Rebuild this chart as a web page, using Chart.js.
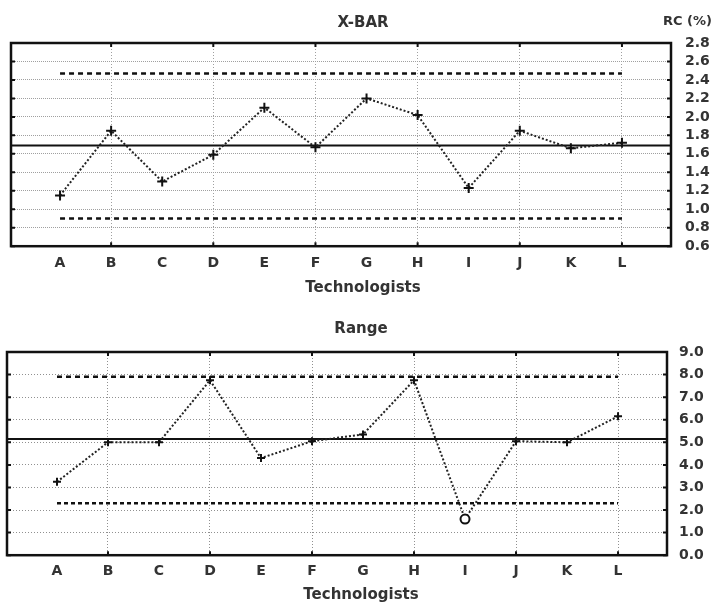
<!DOCTYPE html>
<html>
<head>
<meta charset="utf-8">
<script src="https://cdn.jsdelivr.net/npm/chart.js@4.4.1/dist/chart.umd.min.js"></script>
<style>
  body { margin: 0; background: #fff; }
  #wrap { position: relative; width: 715px; height: 603px; }
  #xbarBox { position: absolute; left: 0; top: 0; width: 715px; height: 300px; }
  #rangeBox { position: absolute; left: 0; top: 300px; width: 715px; height: 303px; }
  #rcLabel { position: absolute; left: 663px; top: 13px; font: bold 13px "DejaVu Sans"; color: #333; }
</style>
</head>
<body>
<div id="wrap">
  <div id="xbarBox"><canvas id="xbarChart"></canvas></div>
  <div id="rangeBox"><canvas id="rangeChart"></canvas></div>
  <div id="rcLabel">RC (%)</div>
</div>
<script>
// categories
const technologists = ['A', 'B', 'C', 'D', 'E', 'F', 'G', 'H', 'I', 'J', 'K', 'L'];

// X-BAR chart
const xbarValues = [1.15, 1.85, 1.30, 1.59, 2.10, 1.67, 2.20, 2.02, 1.23, 1.85, 1.66, 1.72];
const xbarCenter = 1.69;
const xbarUcl = 2.47;
const xbarLcl = 0.90;
const xbarTicks = [0.6, 0.8, 1.0, 1.2, 1.4, 1.6, 1.8, 2.0, 2.2, 2.4, 2.6, 2.8];

// Range chart
const rangeValues = [3.25, 5.00, 5.00, 7.75, 4.30, 5.05, 5.35, 7.75, 1.60, 5.05, 5.00, 6.15];
const rangeCenter = 5.15;
const rangeUcl = 7.90;
const rangeLcl = 2.30;
const rangeTicks = [0, 1, 2, 3, 4, 5, 6, 7, 8, 9];

const fontFamily = 'DejaVu Sans';
const textColor = '#333';

// box round the plot area, with small inward tick marks
const framePlugin = {
    id: 'frame',
    afterDatasetsDraw(chart) {
        const { ctx, chartArea: a, scales } = chart;
        ctx.save();
        ctx.strokeStyle = '#111';
        ctx.lineWidth = 2.5;
        ctx.strokeRect(a.left, a.top, a.right - a.left, a.bottom - a.top);
        ctx.lineWidth = 2;
        ctx.beginPath();
        scales.y.ticks.forEach(t => {
            const y = scales.y.getPixelForValue(t.value);
            ctx.moveTo(a.left, y); ctx.lineTo(a.left + 4, y);
            ctx.moveTo(a.right, y); ctx.lineTo(a.right - 4, y);
        });
        scales.x.ticks.forEach((t, i) => {
            if (i % 2 === 0) return;
            const x = scales.x.getPixelForValue(t.value);
            ctx.moveTo(x, a.bottom); ctx.lineTo(x, a.bottom - 4);
            ctx.moveTo(x, a.top); ctx.lineTo(x, a.top + 4);
        });
        ctx.stroke();
        ctx.restore();
    }
};

function controlChart(id, cfg) {
    const last = technologists.length - 1;
    const outOfControl = cfg.values.map(v => v < cfg.lcl || v > cfg.ucl);
    return new Chart(document.getElementById(id), {
        type: 'line',
        data: {
            datasets: [
                {
                    label: cfg.title,
                    data: cfg.values.map((v, i) => ({ x: i, y: v })),
                    borderColor: '#222',
                    borderWidth: 2,
                    borderDash: [2, 2],
                    tension: 0,
                    pointStyle: outOfControl.map(o => o ? 'circle' : 'cross'),
                    pointRadius: outOfControl.map(o => o ? 4.5 : cfg.markerSize),
                    pointBorderWidth: 2,
                    pointBorderColor: '#111',
                    pointBackgroundColor: '#fff'
                },
                {
                    label: 'CL',
                    data: [{ x: cfg.xMin, y: cfg.center }, { x: cfg.xMax, y: cfg.center }],
                    borderColor: '#111',
                    borderWidth: 2,
                    pointRadius: 0
                },
                {
                    label: 'UCL',
                    data: [{ x: 0, y: cfg.ucl }, { x: last, y: cfg.ucl }],
                    borderColor: '#111',
                    borderWidth: 2.5,
                    borderDash: [5, 4],
                    pointRadius: 0
                },
                {
                    label: 'LCL',
                    data: [{ x: 0, y: cfg.lcl }, { x: last, y: cfg.lcl }],
                    borderColor: '#111',
                    borderWidth: 2.5,
                    borderDash: cfg.lclDash,
                    pointRadius: 0
                }
            ]
        },
        options: {
            responsive: true,
            maintainAspectRatio: false,
            animation: false,
            events: [],
            layout: { padding: { left: cfg.left, right: 0, top: 0, bottom: 0 } },
            scales: {
                x: {
                    type: 'linear',
                    min: cfg.xMin,
                    max: cfg.xMax,
                    afterBuildTicks: s => { s.ticks = technologists.map((t, i) => ({ value: i })); },
                    ticks: {
                        autoSkip: false,
                        maxRotation: 0,
                        padding: cfg.xPad,
                        color: textColor,
                        font: { family: fontFamily, size: 14, weight: 'bold' },
                        callback: (v, i) => technologists[i]
                    },
                    grid: {
                        drawTicks: false,
                        color: c => c.index % 2 === 1 ? cfg.gridColor : 'rgba(0,0,0,0)'
                    },
                    border: { display: false, dash: [1, 2] }
                },
                y: {
                    position: 'right',
                    min: cfg.ticks[0],
                    max: cfg.ticks[cfg.ticks.length - 1],
                    afterBuildTicks: s => { s.ticks = cfg.ticks.map(v => ({ value: v })); },
                    afterFit: s => { s.width = cfg.yWidth; },
                    ticks: {
                        autoSkip: false,
                        padding: cfg.yPad,
                        color: textColor,
                        font: { family: fontFamily, size: 14, weight: 'bold' },
                        callback: v => v.toFixed(1)
                    },
                    grid: { drawTicks: false, color: cfg.gridColor },
                    border: { display: false, dash: cfg.gridDash }
                }
            },
            plugins: {
                legend: { display: false },
                tooltip: { enabled: false },
                title: {
                    display: true,
                    text: cfg.title,
                    color: textColor,
                    font: { family: fontFamily, size: 15, weight: 'bold' },
                    padding: cfg.titlePad
                },
                subtitle: {
                    display: true,
                    position: 'bottom',
                    text: 'Technologists',
                    color: textColor,
                    font: { family: fontFamily, size: 15, weight: 'bold', lineHeight: 1 },
                    padding: cfg.subPad
                }
            }
        },
        plugins: [framePlugin]
    });
}

const xbarChart = controlChart('xbarChart', {
    title: 'X-BAR',
    values: xbarValues, center: xbarCenter, ucl: xbarUcl, lcl: xbarLcl, ticks: xbarTicks,
    xMin: -0.96, xMax: 11.96,
    left: 11, yWidth: 44, yPad: 14, xPad: 9,
    titlePad: { top: 14, bottom: 11 },
    subPad: { top: 0, bottom: 4 },
    gridColor: '#a0a0a0', gridDash: [1, 1],
    lclDash: [5, 4], markerSize: 5
});

const rangeChart = controlChart('rangeChart', {
    title: 'Range',
    values: rangeValues, center: rangeCenter, ucl: rangeUcl, lcl: rangeLcl, ticks: rangeTicks,
    xMin: -0.98, xMax: 11.96,
    left: 7, yWidth: 48, yPad: 12, xPad: 8,
    titlePad: { top: 20, bottom: 14 },
    subPad: { top: 0, bottom: 0 },
    gridColor: '#909090', gridDash: [1, 2],
    lclDash: [4, 3], markerSize: 4
});
</script>
</body>
</html>
